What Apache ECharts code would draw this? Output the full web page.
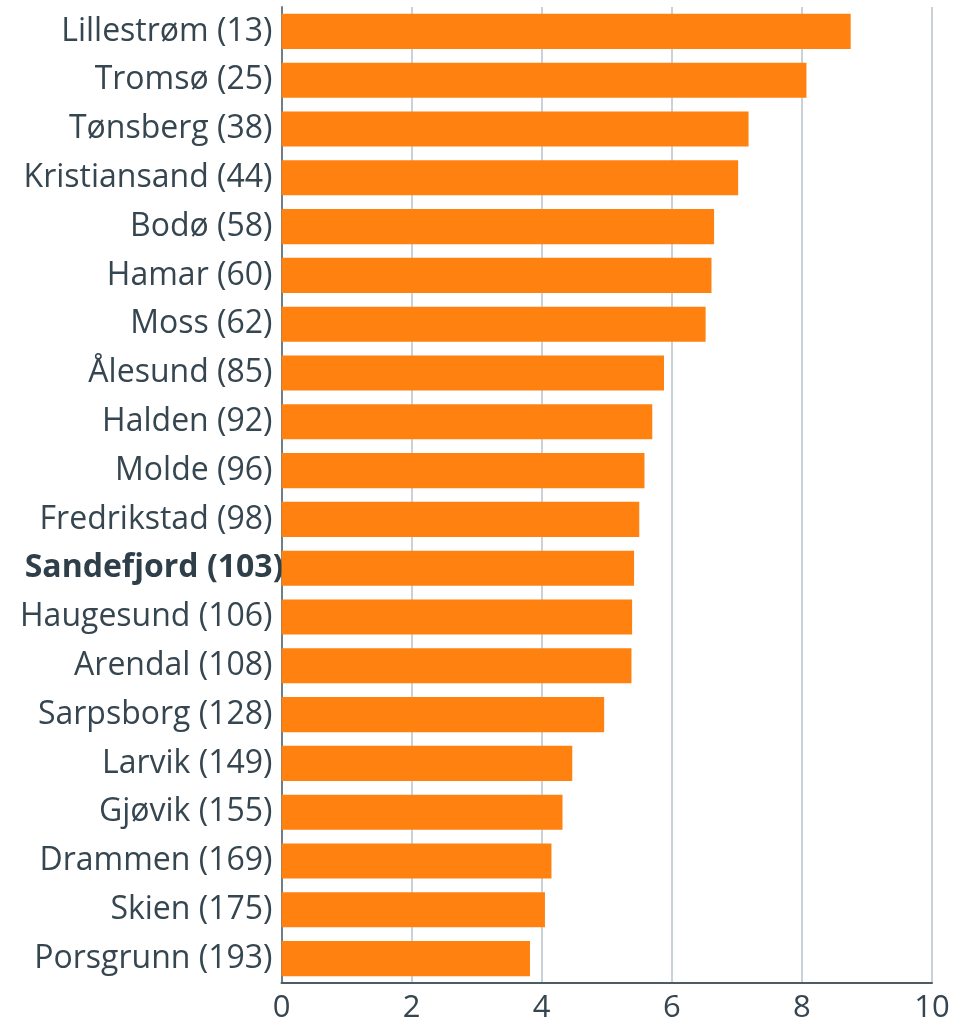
<!DOCTYPE html>
<html>
<head>
<meta charset="utf-8">
<script src="https://cdn.jsdelivr.net/npm/echarts@6/dist/echarts.min.js"></script>
<style>
    html, body { margin: 0; padding: 0; background: #fff; }
    #chart { width: 956px; height: 1025px; }
</style>
</head>
<body>
<div id="chart"></div>
<script>
    var cities = ['Lillestrøm (13)', 'Tromsø (25)', 'Tønsberg (38)', 'Kristiansand (44)', 'Bodø (58)',
        'Hamar (60)', 'Moss (62)', 'Ålesund (85)', 'Halden (92)', 'Molde (96)', 'Fredrikstad (98)',
        'Sandefjord (103)', 'Haugesund (106)', 'Arendal (108)', 'Sarpsborg (128)', 'Larvik (149)',
        'Gjøvik (155)', 'Drammen (169)', 'Skien (175)', 'Porsgrunn (193)']
    var values = [8.75, 8.07, 7.18, 7.02, 6.65, 6.61, 6.52, 5.88, 5.70, 5.58, 5.50,
        5.42, 5.39, 5.38, 4.96, 4.47, 4.32, 4.15, 4.05, 3.82]
    var highlight = 'Sandefjord (103)'
    var xTicks = [0, 2, 4, 6, 8, 10]

    var textColor = '#364650'
    var myChart = echarts.init(document.getElementById('chart'))
    var option = {
        animation: false,
        textStyle: { fontFamily: 'Open Sans' },
        grid: { left: 281.5, right: 24, top: 7, bottom: 42 },
        xAxis: {
            type: 'value',
            min: xTicks[0],
            max: xTicks[xTicks.length - 1],
            interval: 2,
            axisLine: { show: true, lineStyle: { color: '#4c5c66', width: 2 } },
            axisTick: { show: false },
            splitLine: { show: true, lineStyle: { color: '#c9d2d8', width: 2 } },
            axisLabel: { color: textColor, fontSize: 31, margin: 10 }
        },
        yAxis: {
            type: 'category',
            inverse: true,
            data: cities,
            axisLine: { show: true, lineStyle: { color: '#6b7e8a', width: 2 } },
            axisTick: { show: false },
            axisLabel: {
                color: textColor,
                fontSize: 32,
                margin: 9,
                formatter: function (v) {
                    return v === highlight ? '{b|' + v + '}' : v
                },
                rich: {
                    b: { fontWeight: 'bold', fontSize: 32, color: '#2f3f4a', fontFamily: 'Open Sans', padding: [0, -11, 0, 0] }
                }
            }
        },
        series: [{
            type: 'bar',
            data: values,
            barCategoryGap: '28%',
            itemStyle: { color: '#ff8211' }
        }]
    }
    myChart.setOption(option)
</script>
</body>
</html>
